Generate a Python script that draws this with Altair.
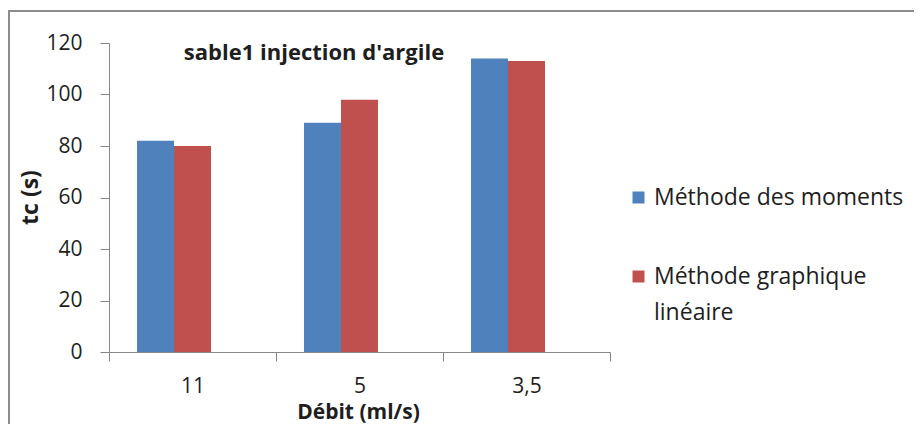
import altair as alt
import pandas as pd

# ---- data ----
categories = ["11", "5", "3,5"]
series_names = ["Méthode des moments", "Méthode graphique linéaire"]
moments = [82, 89, 114]
graphique = [80, 98, 113]
chart_title = ["sable1 injection d'argile"]
y_ticks = [0, 20, 40, 60, 80, 100, 120]
colors = ["#4F81BD", "#C0504D"]

rows = []
for c, m, g in zip(categories, moments, graphique):
    rows.append({"debit": c, "methode": series_names[0], "tc": m})
    rows.append({"debit": c, "methode": series_names[1], "tc": g})
df = pd.DataFrame(rows)

FONT = "Open Sans"
AXC = "#868686"
TXT = "#1e1e1e"
W, H = 501, 309

split_expr = (
    "datum.label == '" + series_names[1] + "' ? ['Méthode graphique', 'linéaire'] : datum.label"
)

bars = alt.Chart(df).mark_bar().encode(
    x=alt.X(
        "debit:N",
        sort=categories,
        scale=alt.Scale(paddingInner=0, paddingOuter=0),
        axis=alt.Axis(
            title="Débit (ml/s)",
            labelAngle=0,
            tickBand="extent",
            tickSize=9,
            tickColor=AXC,
            domainColor=AXC,
            labelFont=FONT,
            labelFontSize=21,
            labelColor=TXT,
            labelPadding=14,
            titleFont=FONT,
            titleFontSize=21,
            titleFontWeight="bold",
            titleColor=TXT,
            titleX=249,
            titleY=60,
            titleBaseline="middle",
            titleAlign="center",
        ),
    ),
    xOffset=alt.XOffset(
        "methode:N",
        scale=alt.Scale(domain=series_names + ["_"], paddingInner=0, paddingOuter=0.757),
    ),
    y=alt.Y(
        "tc:Q",
        scale=alt.Scale(domain=[0, 120], nice=False),
        axis=alt.Axis(
            title="tc (s)",
            values=y_ticks,
            grid=False,
            tickSize=9,
            tickColor=AXC,
            domainColor=AXC,
            labelFont=FONT,
            labelFontSize=21,
            labelColor=TXT,
            labelPadding=18,
            titleFont=FONT,
            titleFontSize=23,
            titleFontWeight="bold",
            titleColor=TXT,
            titleAngle=270,
            titleX=-79,
            titleY=154,
            titleBaseline="middle",
            titleAlign="center",
        ),
    ),
    color=alt.Color(
        "methode:N",
        sort=series_names,
        scale=alt.Scale(domain=series_names, range=colors),
        legend=alt.Legend(
            title=None,
            orient="none",
            legendX=518,
            legendY=143,
            symbolType="square",
            symbolSize=144,
            symbolStrokeWidth=0,
            labelFont=FONT,
            labelFontSize=23,
            labelColor=TXT,
            labelOffset=4,
            labelLimit=400,
            rowPadding=55,
            labelExpr=split_expr,
        ),
    ),
)

border = alt.Chart(alt.Data(values=[{"b": 1}])).mark_rect(
    fill=None, stroke="#8c8c8c", strokeWidth=2
).encode(
    x=alt.value(-100), x2=alt.value(900), y=alt.value(-32), y2=alt.value(500)
)

title = alt.Chart(alt.Data(values=[{"t": t} for t in chart_title])).mark_text(
    font=FONT, fontSize=22, fontWeight="bold", color=TXT, align="center", baseline="middle"
).encode(text="t:N", x=alt.value(205), y=alt.value(10))

chart = (
    alt.layer(border, bars, title)
    .properties(
        width=W,
        height=H,
        autosize=alt.AutoSizeParams(type="none"),
        padding={"left": 101, "top": 35, "right": 304, "bottom": 72},
        background="white",
    )
    .configure(style={"guide-label": {"lineHeight": 36}})
    .configure_view(stroke=None)
)

chart.save("out.html", embed_options={"renderer": "svg", "actions": False})
